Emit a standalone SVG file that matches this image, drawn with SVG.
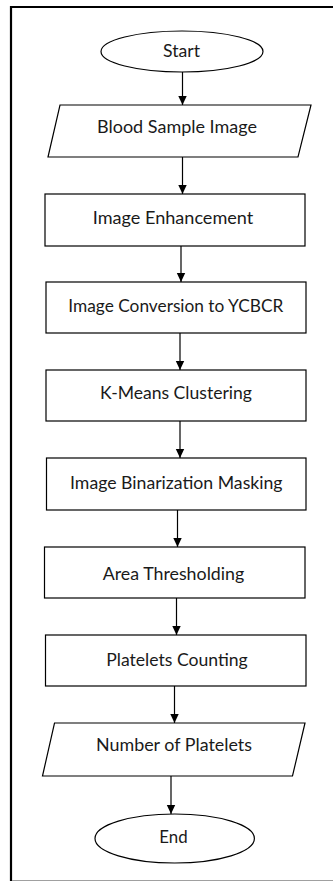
<svg xmlns="http://www.w3.org/2000/svg" width="333" height="882" viewBox="0 0 333 882">
  <style>
    .shape { fill: #ffffff; stroke: #000000; stroke-width: 1.2; }
    .label { font-family: Lato, "Open Sans", "Liberation Sans", sans-serif; font-size: 17px; fill: #1a1a1a; text-anchor: middle; }
    .link { stroke: #000000; stroke-width: 1.2; fill: none; marker-end: url(#arrow); }
  </style>
  <defs>
    <marker id="arrow" markerUnits="userSpaceOnUse" markerWidth="10" markerHeight="10" refX="9" refY="5" orient="auto">
      <path d="M0,0.8 L9,5 L0,9.2 Z" fill="#000000"/>
    </marker>
  </defs>

  <rect width="333" height="882" fill="#ffffff"/>

  <!-- page frame -->
  <g id="frame">
    <line x1="11" y1="7" x2="333" y2="7" stroke="#000000" stroke-width="2"/>
    <line x1="11" y1="6" x2="11" y2="881" stroke="#000000" stroke-width="2.2"/>
    <line x1="12" y1="880.5" x2="333" y2="880.5" stroke="#a0a0a0" stroke-width="1.2"/>
  </g>

  <!-- connectors -->
  <g id="connectors">
    <line class="link" x1="182.5" y1="72" x2="182.5" y2="105"/>
    <line class="link" x1="182.5" y1="157" x2="182.5" y2="194"/>
    <line class="link" x1="181" y1="246" x2="181" y2="282"/>
    <line class="link" x1="180" y1="333" x2="180" y2="370"/>
    <line class="link" x1="180" y1="421" x2="180" y2="458"/>
    <line class="link" x1="177.5" y1="510" x2="177.5" y2="547"/>
    <line class="link" x1="176.5" y1="598" x2="176.5" y2="635"/>
    <line class="link" x1="174.5" y1="686" x2="174.5" y2="723"/>
    <line class="link" x1="171" y1="776" x2="171" y2="814"/>
  </g>

  <g id="start">
    <ellipse class="shape" cx="182" cy="51.5" rx="81" ry="20.5"/>
    <text class="label" x="181.5" y="56.5" textLength="37" lengthAdjust="spacingAndGlyphs">Start</text>
  </g>

  <g id="blood-sample-image">
    <polygon class="shape" points="60,105 311,105 298,157 48,157"/>
    <text class="label" x="177" y="133" textLength="160" lengthAdjust="spacingAndGlyphs">Blood Sample Image</text>
  </g>

  <g id="image-enhancement">
    <rect class="shape" x="45" y="194" width="260" height="52"/>
    <text class="label" x="173" y="224.3" textLength="160.5" lengthAdjust="spacingAndGlyphs">Image Enhancement</text>
  </g>

  <g id="image-conversion">
    <rect class="shape" x="46" y="282" width="260" height="51"/>
    <text class="label" x="175.8" y="311.7" textLength="215" lengthAdjust="spacingAndGlyphs">Image Conversion to YCBCR</text>
  </g>

  <g id="k-means">
    <rect class="shape" x="46" y="370" width="260" height="51"/>
    <text class="label" x="176" y="399" textLength="152" lengthAdjust="spacingAndGlyphs">K-Means Clustering</text>
  </g>

  <g id="binarization">
    <rect class="shape" x="46.5" y="458" width="259.5" height="52"/>
    <text class="label" x="176.3" y="489.3" textLength="212.5" lengthAdjust="spacingAndGlyphs">Image Binarization Masking</text>
  </g>

  <g id="area-thresholding">
    <rect class="shape" x="44.5" y="547" width="260.5" height="51"/>
    <text class="label" x="173.5" y="579.5" textLength="141.5" lengthAdjust="spacingAndGlyphs">Area Thresholding</text>
  </g>

  <g id="platelets-counting">
    <rect class="shape" x="45.5" y="635" width="260.5" height="51"/>
    <text class="label" x="177" y="665.7" textLength="141.5" lengthAdjust="spacingAndGlyphs">Platelets Counting</text>
  </g>

  <g id="number-of-platelets">
    <polygon class="shape" points="54.5,723 305,723 292.5,776 42.5,776"/>
    <text class="label" x="174" y="750.7" textLength="156" lengthAdjust="spacingAndGlyphs">Number of Platelets</text>
  </g>

  <g id="end">
    <ellipse class="shape" cx="174.7" cy="838.5" rx="79.7" ry="24.5"/>
    <text class="label" x="173.5" y="842.7" textLength="28.3" lengthAdjust="spacingAndGlyphs">End</text>
  </g>
</svg>
